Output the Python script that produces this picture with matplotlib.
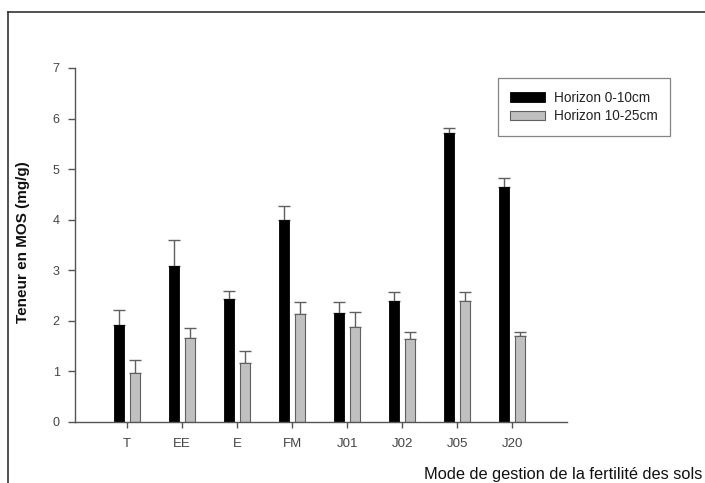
import matplotlib
matplotlib.use("Agg")
import matplotlib.pyplot as plt
import numpy as np
from matplotlib.lines import Line2D

plt.rcParams['font.family'] = ['Liberation Sans', 'DejaVu Sans']

categories = ["T", "EE", "E", "FM", "J01", "J02", "J05", "J20"]
h1_values = [1.91, 3.08, 2.42, 3.99, 2.15, 2.38, 5.72, 4.65]
h1_errors = [0.30, 0.52, 0.17, 0.28, 0.21, 0.18, 0.09, 0.17]
h2_values = [0.96, 1.66, 1.16, 2.13, 1.87, 1.64, 2.38, 1.70]
h2_errors = [0.26, 0.19, 0.24, 0.24, 0.30, 0.14, 0.18, 0.07]
series_labels = ["Horizon 0-10cm", "Horizon 10-25cm"]
y_ticks = [0, 1, 2, 3, 4, 5, 6, 7]

W, H = 705, 483
fig = plt.figure(figsize=(W / 100, H / 100), dpi=100)
fig.patch.set_facecolor("white")

# outer frame (cut at right and bottom)
fig.add_artist(Line2D([8 / W, 8 / W], [0, 1 - 12 / H], transform=fig.transFigure,
                      color="#333333", lw=1.2))
fig.add_artist(Line2D([8 / W, 1], [1 - 12 / H, 1 - 12 / H], transform=fig.transFigure,
                      color="#333333", lw=1.2))

ax = fig.add_axes([75 / W, 1 - 421.7 / H, (567 - 75) / W, (421.7 - 68) / H])
x = np.arange(1, len(categories) + 1)
bw = 0.175
off = 0.145
grey_edge = "#606060"

ax.bar(x - off, h1_values, bw, color="black", edgecolor="black", linewidth=0.6,
       label=series_labels[0], zorder=2)
ax.bar(x + off, h2_values, bw, color="#c0c0c0", edgecolor=grey_edge, linewidth=0.8,
       label=series_labels[1], zorder=2)
ax.errorbar(x - off, h1_values, yerr=[np.zeros(len(h1_values)), h1_errors], fmt="none",
            ecolor=grey_edge, elinewidth=1.0, capsize=4, capthick=1.0, zorder=1)
ax.errorbar(x + off, h2_values, yerr=[np.zeros(len(h2_values)), h2_errors], fmt="none",
            ecolor=grey_edge, elinewidth=1.0, capsize=4, capthick=1.0, zorder=1)

ax.set_xlim(0.05, 9)
ax.set_ylim(0, 7)
ax.set_yticks(y_ticks)
ax.set_xticks(x)
ax.set_xticklabels(categories)
for s in ["top", "right"]:
    ax.spines[s].set_visible(False)
for s in ["left", "bottom"]:
    ax.spines[s].set_color("#555555")
    ax.spines[s].set_linewidth(1.0)
ax.tick_params(axis="y", direction="out", length=5, width=1, color="#555555",
               labelsize=9, labelcolor="#444444", pad=6)
ax.tick_params(axis="x", direction="out", length=4, width=1, color="#555555",
               labelsize=9.5, labelcolor="#444444", pad=8)

fig.text(23.5 / W, 1 - 242 / H, "Teneur en MOS (mg/g)", rotation=90, ha="center",
         va="center", fontsize=11, fontweight="bold", color="#111111")
fig.text(702 / W, 1 - 475 / H, "Mode de gestion de la fertilité des sols", ha="right",
         va="center", fontsize=11.8, color="#111111")

leg = ax.legend(loc="upper left", bbox_to_anchor=(497.7 / W, 1 - 78.3 / H),
                bbox_transform=fig.transFigure, borderaxespad=0, fancybox=False,
                frameon=True, fontsize=9.8, handlelength=2.6, handleheight=0.7,
                handletextpad=0.6, labelspacing=0.35, borderpad=0.9)
leg.get_frame().set_edgecolor("#666666")
leg.get_frame().set_linewidth(0.9)
for t in leg.get_texts():
    t.set_color("#222222")

fig.savefig("out.png", dpi=100)
